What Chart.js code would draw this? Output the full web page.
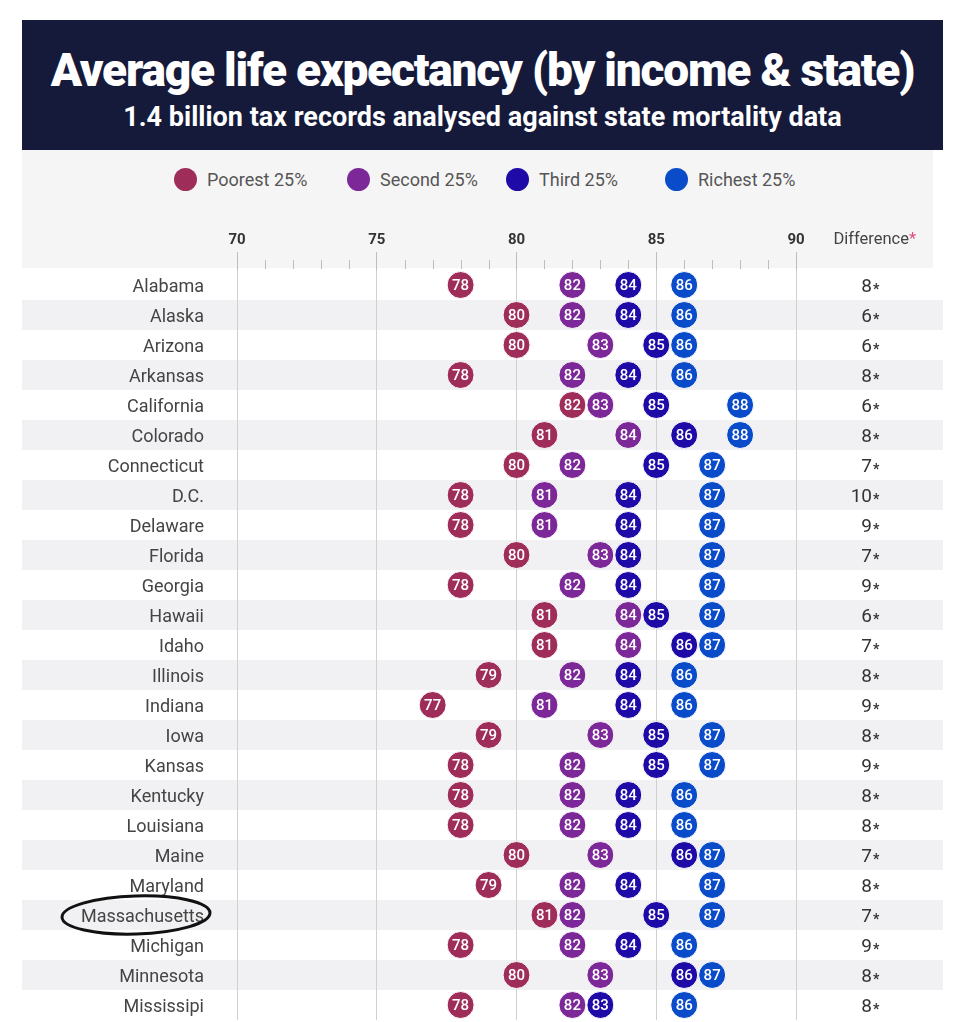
<!DOCTYPE html>
<html>
<head>
<meta charset="utf-8">
<script src="https://cdn.jsdelivr.net/npm/chart.js@4.4.1/dist/chart.umd.min.js"></script>
<style>
  body { margin: 0; background: #fff; font-family: Roboto, "Noto Sans", sans-serif; }
  #page { position: relative; width: 960px; height: 1022px; overflow: hidden; background: #fff; }
  .header { position: absolute; left: 22px; top: 20px; width: 921px; height: 130px; background: #151a3a; color: #fff; text-align: center; }
  .header h1 { position: absolute; left: 0; right: 0; top: 50px; margin: 0; font-size: 46px; font-weight: 900; letter-spacing: -1.2px; line-height: 52px; transform: translateY(-50%); }
  .header h2 { position: absolute; left: 0; right: 0; top: 97px; margin: 0; font-size: 27px; font-weight: 700; letter-spacing: 0; line-height: 32px; transform: translateY(-50%); }
  .topband { position: absolute; left: 22px; top: 150px; width: 911px; height: 118px; background: #f5f5f6; }
  .legend { position: absolute; left: 174px; top: 168px; display: flex; }
  .legend .item { display: flex; align-items: center; font-size: 18px; color: #555; }
  .legend .item:nth-child(1) { width: 173px; }
  .legend .item:nth-child(2), .legend .item:nth-child(3) { width: 159px; }
  .legend .dot { width: 23px; height: 23px; border-radius: 50%; margin-right: 10px; }
  #wrap { position: absolute; left: 22px; top: 150px; width: 921px; height: 872px; }
</style>
</head>
<body>
<div id="page">
  <div class="header">
    <h1>Average life expectancy (by income &amp; state)</h1>
    <h2>1.4 billion tax records analysed against state mortality data</h2>
  </div>
  <div class="topband"></div>
  <div class="legend" id="legend"></div>
  <div id="wrap"><canvas id="chart" width="921" height="872"></canvas></div>
</div>
<script>
// data
const states = ["Alabama", "Alaska", "Arizona", "Arkansas", "California", "Colorado", "Connecticut",
  "D.C.", "Delaware", "Florida", "Georgia", "Hawaii", "Idaho", "Illinois", "Indiana", "Iowa",
  "Kansas", "Kentucky", "Louisiana", "Maine", "Maryland", "Massachusetts", "Michigan", "Minnesota", "Mississipi"]
const poorest = [78, 80, 80, 78, 82, 81, 80, 78, 78, 80, 78, 81, 81, 79, 77, 79, 78, 78, 78, 80, 79, 81, 78, 80, 78]
const second  = [82, 82, 83, 82, 83, 84, 82, 81, 81, 83, 82, 84, 84, 82, 81, 83, 82, 82, 82, 83, 82, 82, 82, 83, 82]
const third   = [84, 84, 85, 84, 85, 86, 85, 84, 84, 84, 84, 85, 86, 84, 84, 85, 85, 84, 84, 86, 84, 85, 84, 86, 83]
const richest = [86, 86, 86, 86, 88, 88, 87, 87, 87, 87, 87, 87, 87, 86, 86, 87, 87, 86, 86, 87, 87, 87, 86, 87, 86]
const difference = [8, 6, 6, 8, 6, 8, 7, 10, 9, 7, 9, 6, 7, 8, 9, 8, 9, 8, 8, 7, 8, 7, 9, 8, 8]
const seriesNames = ["Poorest 25%", "Second 25%", "Third 25%", "Richest 25%"]
const seriesValues = [poorest, second, third, richest]
const xMin = 70, xMax = 90, xStep = 5

const seriesColors = ["#9f2d59", "#7d2898", "#1e0aa6", "#0a4bca"]
const highlighted = "Massachusetts"

// legend
const Legend = document.getElementById("legend")
seriesNames.forEach(function(Name, i){
    const Item = document.createElement("div")
    Item.className = "item"
    const Dot = document.createElement("span")
    Dot.className = "dot"
    Dot.style.background = seriesColors[i]
    Item.append(Dot, document.createTextNode(Name))
    Legend.append(Item)
})

const Stripes = {
    id: "stripes",
    beforeDraw(chart){
        const ctx = chart.ctx, y = chart.scales.y
        const half = (y.getPixelForValue(1) - y.getPixelForValue(0)) / 2
        ctx.save()
        ctx.fillStyle = "#f1f1f3"
        states.forEach(function(s, i){
            if (i % 2 == 1) {
                const cy = y.getPixelForValue(i)
                ctx.fillRect(0, cy - half, chart.width, half * 2)
            }
        })
        ctx.restore()
    },
    afterDraw(chart){
        const ctx = chart.ctx, x = chart.scales.x, y = chart.scales.y
        ctx.save()
        // minor ticks
        ctx.strokeStyle = "#bdbdbd"
        ctx.lineWidth = 1
        for (let v = xMin; v <= xMax; v++){
            if (v % xStep == 0) continue
            const px = Math.round(x.getPixelForValue(v)) + 0.5
            ctx.beginPath()
            ctx.moveTo(px, chart.chartArea.top - 10)
            ctx.lineTo(px, chart.chartArea.top - 1)
            ctx.stroke()
        }
        // difference column
        const colX = 850
        ctx.textBaseline = "alphabetic"
        ctx.font = "16.5px Roboto"
        ctx.fillStyle = "#444"
        ctx.textAlign = "right"
        ctx.fillText("Difference", colX + 37, 94)
        ctx.fillStyle = "#e0507a"
        ctx.textAlign = "left"
        ctx.fillText("*", colX + 37, 94)
        difference.forEach(function(d, i){
            const cy = y.getPixelForValue(i)
            ctx.fillStyle = "#333"
            ctx.font = "19px Roboto"
            ctx.textAlign = "right"
            ctx.fillText(String(d), colX, cy + 7)
            ctx.font = "bold 14px Roboto"
            ctx.textAlign = "left"
            ctx.fillText("*", colX + 1, cy + 9)
        })
        // hand drawn ring round one label
        const hy = y.getPixelForValue(states.indexOf(highlighted))
        ctx.strokeStyle = "#111"
        ctx.lineWidth = 3
        ctx.beginPath()
        ctx.ellipse(114, hy, 74, 19, -0.03, 0, Math.PI * 2)
        ctx.stroke()
        ctx.restore()
    }
}

const PointLabels = {
    id: "pointLabels",
    afterDatasetsDraw(chart){
        const ctx = chart.ctx
        ctx.save()
        ctx.font = "500 15px Roboto"
        ctx.fillStyle = "#fff"
        ctx.textAlign = "center"
        ctx.textBaseline = "middle"
        chart.data.datasets.forEach(function(ds, d){
            chart.getDatasetMeta(d).data.forEach(function(pt, i){
                ctx.fillText(String(ds.data[i].x), pt.x, pt.y + 1)
            })
        })
        ctx.restore()
    }
}

const datasets = seriesNames.map(function(Name, d){
    return {
        label: Name,
        data: states.map((s, i) => ({x: seriesValues[d][i], y: s})),
        backgroundColor: seriesColors[d],
        borderColor: "#ffffff",
        borderWidth: 1,
        pointRadius: 13.5,
        pointHoverRadius: 13.5
    }
}).reverse()

new Chart(document.getElementById("chart"), {
    type: "scatter",
    data: {datasets: datasets},
    options: {
        responsive: false,
        animation: false,
        devicePixelRatio: 1,
        layout: {autoPadding: false, padding: {left: 0, right: 147, top: 0, bottom: 2}},
        plugins: {legend: {display: false}, tooltip: {enabled: false}},
        scales: {
            x: {
                type: "linear",
                position: "top",
                min: xMin,
                max: xMax,
                afterFit: s => { s.height = 120 },
                ticks: {stepSize: xStep, font: {family: "Roboto", size: 15, weight: "bold"}, color: "#333", padding: 3},
                grid: {color: "#d0d0d0", lineWidth: 1, tickLength: 18, tickColor: "#bdbdbd"},
                border: {display: false}
            },
            y: {
                type: "category",
                labels: states,
                offset: true,
                afterFit: s => { s.width = 215; s.paddingTop = 0; s.paddingBottom = 0 },
                ticks: {font: {family: "Roboto", size: 18}, color: "#444", padding: 33, labelOffset: 2, autoSkip: false},
                grid: {display: false, drawTicks: false},
                border: {display: false}
            }
        }
    },
    plugins: [Stripes, PointLabels]
})
</script>
</body>
</html>
